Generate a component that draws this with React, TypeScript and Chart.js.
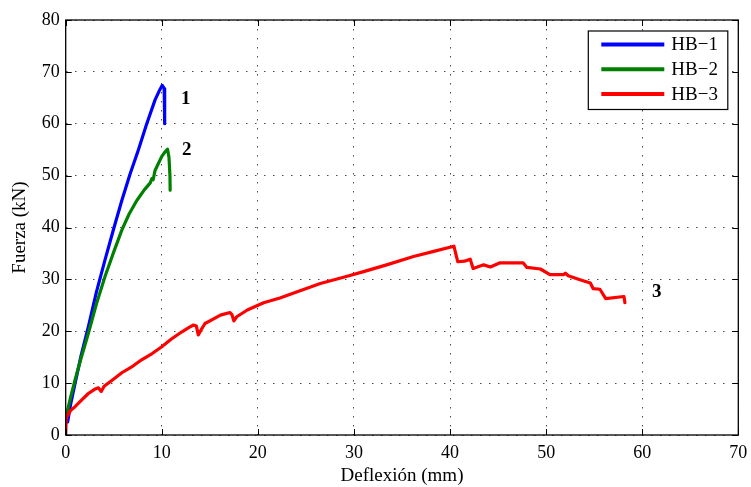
import React, { useEffect, useRef } from "react";
import { Chart, registerables } from "chart.js";

Chart.register(...registerables);

const seriesLabels = ["HB−1", "HB−2", "HB−3"];
const seriesColors = ["#0000ff", "#008000", "#ff0000"];

const hb1: [number, number][] = [
  [0.2, 2.5], [0.5, 5.8], [1.0, 10.2], [1.6, 15.3], [2.36, 20.9], [3.2, 27.6],
  [4.1, 33.8], [5.0, 39.8], [5.84, 45.2], [6.7, 50.3], [7.57, 55.0], [8.4, 59.8],
  [9.3, 64.6], [9.7, 66.2], [10.05, 67.4], [10.25, 66.8], [10.3, 63.0], [10.3, 60.0],
];

const hb2: [number, number][] = [
  [0.1, 4.0], [0.5, 7.2], [1.0, 10.8], [1.6, 14.8], [2.36, 19.6], [3.2, 25.3],
  [4.1, 30.6], [5.0, 35.3], [5.84, 39.5], [6.6, 42.6], [7.4, 45.2], [8.2, 47.3],
  [8.8, 48.6], [8.96, 49.4], [9.1, 49.2], [9.3, 51.0], [10.0, 53.7], [10.35, 54.6],
  [10.6, 55.1], [10.75, 53.5], [10.85, 50.0], [10.87, 47.2],
];

const hb3: [number, number][] = [
  [0, 0], [0.05, 3.3], [0.5, 4.7], [1.0, 5.5], [1.7, 6.8], [2.36, 8.0], [3.0, 8.8],
  [3.4, 9.1], [3.7, 8.4], [4.0, 9.4], [5.0, 10.8], [5.84, 12.0], [7.0, 13.3],
  [7.9, 14.5], [9.0, 15.7], [10.0, 17.0], [11.0, 18.5], [12.1, 19.9], [12.8, 20.7],
  [13.3, 21.2], [13.6, 21.0], [13.8, 19.3], [14.1, 20.3], [14.5, 21.5], [15.3, 22.3],
  [16.1, 23.1], [17.1, 23.6], [17.3, 23.2], [17.5, 22.0], [17.8, 22.8], [18.9, 24.1],
  [20.6, 25.5], [22.3, 26.4], [24.1, 27.6], [26.5, 29.2], [29.3, 30.6], [31.0, 31.5],
  [33.4, 32.8], [36.2, 34.4], [38.3, 35.4], [40.4, 36.4], [40.8, 33.4], [41.5, 33.5],
  [42.1, 33.9], [42.4, 32.1], [43.5, 32.8], [44.2, 32.4], [45.2, 33.2], [47.6, 33.2],
  [48.0, 32.3], [49.4, 32.0], [50.4, 30.9], [51.8, 30.9], [52.0, 31.2], [52.3, 30.7],
  [53.6, 29.9], [54.6, 29.3], [54.9, 28.2], [55.6, 28.1], [56.2, 26.3], [58.1, 26.7],
  [58.2, 25.5],
];

const curveTags = ["1", "2", "3"];
const tagPositions: [number, number][] = [[12.5, 64.8], [12.6, 54.9], [61.5, 27.6]];

const xTitle = "Deflexión (mm)";
const yTitle = "Fuerza (kN)";
const xMin = 0, xMax = 70, xStep = 10;
const yMin = 0, yMax = 80, yStep = 10;

const FONT = "'Liberation Serif', 'Times New Roman', serif";

const framePlugin = {
  id: "frame",
  afterDatasetsDraw(chart: any) {
    const { ctx, chartArea: a, scales } = chart;
    ctx.save();
    ctx.strokeStyle = "#000";
    ctx.lineWidth = 1;
    const tl = 6;
    ctx.beginPath();
    for (const t of scales.x.ticks) {
      const px = Math.round(scales.x.getPixelForValue(t.value)) + 0.5;
      ctx.moveTo(px, a.bottom);
      ctx.lineTo(px, a.bottom - tl);
      ctx.moveTo(px, a.top);
      ctx.lineTo(px, a.top + tl);
    }
    for (const t of scales.y.ticks) {
      const py = Math.round(scales.y.getPixelForValue(t.value)) + 0.5;
      ctx.moveTo(a.left, py);
      ctx.lineTo(a.left + tl, py);
      ctx.moveTo(a.right, py);
      ctx.lineTo(a.right - tl, py);
    }
    ctx.stroke();
    ctx.lineWidth = 1.3;
    ctx.strokeRect(a.left, a.top, a.right - a.left, a.bottom - a.top);

    ctx.fillStyle = "#000";
    ctx.font = `bold 19px ${FONT}`;
    ctx.textAlign = "center";
    ctx.textBaseline = "middle";
    curveTags.forEach((t, i) => {
      const [vx, vy] = tagPositions[i];
      ctx.fillText(t, scales.x.getPixelForValue(vx), scales.y.getPixelForValue(vy));
    });

    const bx = a.right - 150, by = a.top + 11, bw = 139.5, bh = 78.5;
    ctx.fillStyle = "#fff";
    ctx.fillRect(bx, by, bw, bh);
    ctx.strokeStyle = "#000";
    ctx.lineWidth = 1.2;
    ctx.strokeRect(bx, by, bw, bh);
    ctx.font = `19px ${FONT}`;
    ctx.textAlign = "left";
    ctx.textBaseline = "middle";
    chart.data.datasets.forEach((ds: any, i: number) => {
      const ly = by + 13.5 + i * 24.7;
      ctx.strokeStyle = ds.borderColor;
      ctx.lineWidth = 4;
      ctx.beginPath();
      ctx.moveTo(bx + 13, ly);
      ctx.lineTo(bx + 76, ly);
      ctx.stroke();
      ctx.fillStyle = "#000";
      ctx.fillText(ds.label, bx + 83, ly + 1);
    });
    ctx.restore();
  },
};

export default function App() {
  const ref = useRef<HTMLCanvasElement | null>(null);
  useEffect(() => {
    if (!ref.current) return;
    const series = [hb1, hb2, hb3];
    const orders = [3, 2, 1];
    const chart = new Chart(ref.current, {
      type: "line",
      data: {
        datasets: series.map((s, i) => ({
          label: seriesLabels[i],
          data: s.map(([x, y]) => ({ x, y })),
          borderColor: seriesColors[i],
          backgroundColor: seriesColors[i],
          borderWidth: 3.2,
          pointRadius: 0,
          tension: 0,
          fill: false,
          order: orders[i],
          borderJoinStyle: "round" as const,
          borderCapStyle: "round" as const,
        })),
      },
      options: {
        animation: false,
        responsive: false,
        devicePixelRatio: 1,
        layout: { padding: { top: 20, right: 12.7, left: 0, bottom: 0 } },
        plugins: { legend: { display: false }, tooltip: { enabled: false } },
        scales: {
          x: {
            type: "linear",
            min: xMin,
            max: xMax,
            afterFit: (s: any) => { s.height = 52; s.paddingLeft = 0; s.paddingRight = 0; },
            ticks: { stepSize: xStep, color: "#000", font: { family: FONT, size: 18 }, padding: 7 },
            grid: { color: "rgba(0,0,0,0.7)", drawTicks: false, lineWidth: 1 },
            border: { display: false, dash: [1.5, 7.5] },
            title: { display: true, text: xTitle, color: "#000", font: { family: FONT, size: 19 }, padding: { top: 0, bottom: 0 } },
          },
          y: {
            type: "linear",
            min: yMin,
            max: yMax,
            afterFit: (s: any) => { s.width = 65.7; s.paddingTop = 0; s.paddingBottom = 0; },
            ticks: { stepSize: yStep, color: "#000", font: { family: FONT, size: 18 }, padding: 6 },
            grid: { color: "rgba(0,0,0,0.7)", drawTicks: false, lineWidth: 1 },
            border: { display: false, dash: [1.5, 7.5] },
            title: { display: true, text: yTitle, color: "#000", font: { family: FONT, size: 19 }, padding: { top: 8.5, bottom: 0 } },
          },
        },
      },
      plugins: [framePlugin],
    });
    return () => chart.destroy();
  }, []);
  return (
    <div style={{ position: "absolute", left: 0, top: 0, width: 751, height: 487, background: "#fff" }}>
      <canvas ref={ref} width={751} height={487} style={{ display: "block" }} />
    </div>
  );
}
